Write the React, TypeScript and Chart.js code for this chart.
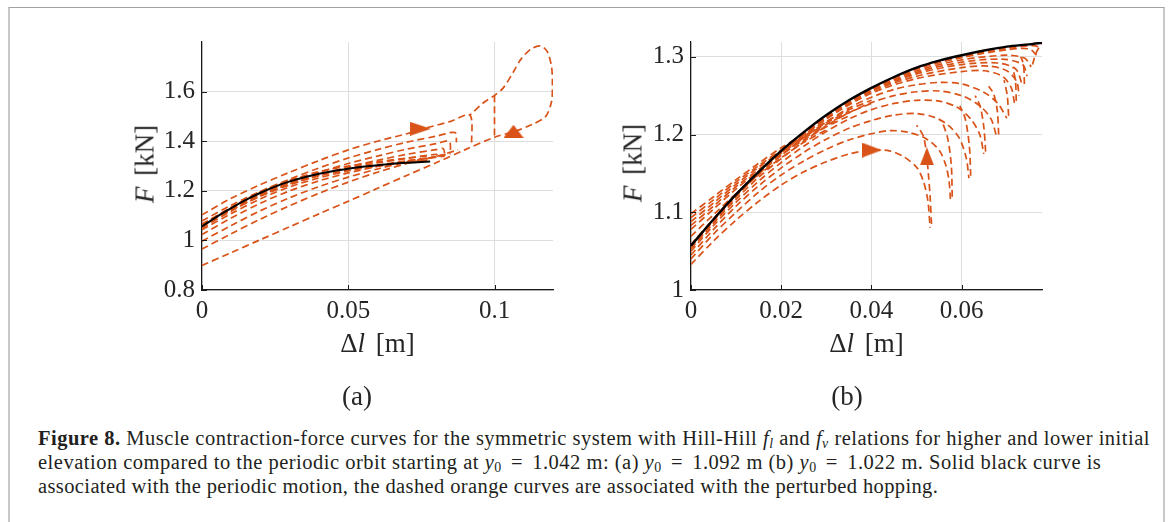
import React, { useEffect, useRef } from "react";
import { Chart, registerables } from "chart.js";

Chart.register(...registerables);

type Pt = [number, number];

const ORANGE = "#D95319";
const GRID = "#dedede";
const AXIS = "#1a1a1a";

// ---------- Panel (a): axes ----------
const A_X_RANGE: Pt = [0, 0.12];
const A_Y_RANGE: Pt = [0.8, 1.8];
const A_X_TICKS = [0, 0.05, 0.1];
const A_Y_TICKS = [0.8, 1, 1.2, 1.4, 1.6];

// ---------- Panel (a): curves ----------
const A_PERIODIC: Pt[] = [
  [0, 1.056], [0.005, 1.095], [0.01, 1.13], [0.015, 1.163], [0.02, 1.192], [0.025, 1.217],
  [0.03, 1.238], [0.035, 1.255], [0.04, 1.269], [0.045, 1.28], [0.05, 1.289], [0.055, 1.297],
  [0.06, 1.303], [0.065, 1.309], [0.07, 1.313], [0.075, 1.316], [0.078, 1.318],
];
const A_UP1: Pt[] = [
  [0, 1.103], [0.01, 1.17], [0.02, 1.225], [0.03, 1.275], [0.04, 1.322], [0.05, 1.365],
  [0.06, 1.4], [0.07, 1.43], [0.075, 1.448], [0.085, 1.48], [0.0916, 1.505], [0.0922, 1.388],
];
const A_UP2: Pt[] = [
  [0, 1.078], [0.01, 1.142], [0.02, 1.198], [0.03, 1.247], [0.04, 1.292], [0.05, 1.332],
  [0.06, 1.366], [0.07, 1.396], [0.08, 1.42], [0.0865, 1.435], [0.087, 1.395],
];
const A_UP3: Pt[] = [
  [0, 1.066], [0.01, 1.13], [0.02, 1.186], [0.03, 1.233], [0.04, 1.274], [0.05, 1.31],
  [0.06, 1.34], [0.07, 1.368], [0.08, 1.39], [0.0845, 1.4], [0.085, 1.36],
];
const A_UP4: Pt[] = [
  [0, 1.06], [0.01, 1.122], [0.02, 1.178], [0.03, 1.224], [0.04, 1.262], [0.05, 1.296],
  [0.06, 1.323], [0.07, 1.347], [0.08, 1.366], [0.0825, 1.37], [0.083, 1.345],
];
const A_UP5: Pt[] = [
  [0, 1.058], [0.01, 1.125], [0.02, 1.185], [0.03, 1.232], [0.04, 1.266], [0.05, 1.292],
  [0.06, 1.312], [0.07, 1.33], [0.08, 1.347], [0.081, 1.335],
];
const A_UP6: Pt[] = [
  [0, 1.063], [0.01, 1.134], [0.02, 1.196], [0.03, 1.243], [0.04, 1.277], [0.05, 1.3],
  [0.06, 1.317], [0.07, 1.332], [0.078, 1.342],
];
const A_LOW1: Pt[] = [
  [0, 0.899], [0.01, 0.951], [0.02, 1.003], [0.03, 1.055], [0.04, 1.107], [0.05, 1.158],
  [0.06, 1.21], [0.07, 1.262], [0.08, 1.313], [0.09, 1.366], [0.1, 1.416], [0.107, 1.44],
  [0.113, 1.468], [0.1175, 1.5], [0.1195, 1.56], [0.1198, 1.63], [0.1195, 1.7], [0.118, 1.762],
  [0.1157, 1.784], [0.1125, 1.772], [0.109, 1.73], [0.1065, 1.68], [0.103, 1.615], [0.1, 1.585],
  [0.096, 1.553], [0.0916, 1.505],
];
const A_LOW2: Pt[] = [
  [0, 0.965], [0.01, 1.027], [0.02, 1.086], [0.03, 1.14], [0.04, 1.19], [0.05, 1.235],
  [0.06, 1.275], [0.07, 1.31], [0.08, 1.338], [0.0875, 1.365],
];
const A_LOW3: Pt[] = [
  [0, 0.997], [0.01, 1.06], [0.02, 1.12], [0.03, 1.172], [0.04, 1.217], [0.05, 1.255],
  [0.06, 1.288], [0.07, 1.316], [0.08, 1.338], [0.085, 1.35],
];
const A_LOW4: Pt[] = [
  [0, 1.024], [0.01, 1.09], [0.02, 1.15], [0.03, 1.2], [0.04, 1.24], [0.05, 1.272],
  [0.06, 1.298], [0.07, 1.32], [0.08, 1.336], [0.083, 1.34],
];
const A_LOW5: Pt[] = [
  [0, 1.043], [0.01, 1.108], [0.02, 1.168], [0.03, 1.216], [0.04, 1.252], [0.05, 1.28],
  [0.06, 1.302], [0.07, 1.321], [0.08, 1.336],
];
const A_LOW6: Pt[] = [
  [0, 1.05], [0.01, 1.118], [0.02, 1.18], [0.03, 1.228], [0.04, 1.26], [0.05, 1.283],
  [0.06, 1.3], [0.07, 1.314], [0.078, 1.325],
];
const A_VERT: Pt[] = [[0.1, 1.585], [0.1, 1.416]];
const A_ARROW_RIGHT: Pt = [0.0747, 1.45];
const A_ARROW_UP: Pt = [0.1065, 1.44];

// ---------- Panel (b): axes ----------
const B_X_RANGE: Pt = [0, 0.0778];
const B_Y_RANGE: Pt = [1, 1.319];
const B_X_TICKS = [0, 0.02, 0.04, 0.06];
const B_Y_TICKS = [1, 1.1, 1.2, 1.3];

// ---------- Panel (b): curves ----------
const B_PERIODIC: Pt[] = [
  [0, 1.057], [0.005, 1.091], [0.01, 1.123], [0.015, 1.152], [0.02, 1.179], [0.025, 1.203],
  [0.03, 1.225], [0.035, 1.244], [0.04, 1.26], [0.045, 1.274], [0.05, 1.286], [0.055, 1.295],
  [0.06, 1.302], [0.065, 1.308], [0.07, 1.313], [0.075, 1.316], [0.0778, 1.318],
];
const B_OUT1: Pt[] = [
  [0, 1.033], [0.005, 1.063], [0.01, 1.09], [0.015, 1.114], [0.02, 1.135], [0.025, 1.152],
  [0.03, 1.165], [0.035, 1.175], [0.04, 1.18], [0.044, 1.179], [0.047, 1.172], [0.05, 1.158],
  [0.0515, 1.14], [0.0525, 1.115], [0.053, 1.08],
];
const B_OUT2: Pt[] = [
  [0, 1.04], [0.005, 1.072], [0.01, 1.1], [0.015, 1.126], [0.02, 1.148], [0.025, 1.166],
  [0.03, 1.181], [0.035, 1.193], [0.04, 1.201], [0.044, 1.205], [0.048, 1.203], [0.052, 1.195],
  [0.055, 1.18], [0.0565, 1.16], [0.0572, 1.14], [0.0575, 1.117],
];
const B_OUT3: Pt[] = [
  [0, 1.045], [0.005, 1.078], [0.01, 1.108], [0.015, 1.134], [0.02, 1.157], [0.025, 1.177],
  [0.03, 1.194], [0.035, 1.208], [0.04, 1.218], [0.045, 1.225], [0.05, 1.227], [0.054, 1.222],
  [0.057, 1.212], [0.0595, 1.195], [0.061, 1.17], [0.0616, 1.144],
];
const B_OUT4: Pt[] = [
  [0, 1.05], [0.005, 1.083], [0.01, 1.113], [0.015, 1.14], [0.02, 1.164], [0.025, 1.185],
  [0.03, 1.204], [0.035, 1.22], [0.04, 1.232], [0.045, 1.24], [0.05, 1.244], [0.055, 1.243],
  [0.059, 1.235], [0.062, 1.22], [0.064, 1.2], [0.0649, 1.175],
];
const B_OUT5: Pt[] = [
  [0, 1.053], [0.005, 1.086], [0.01, 1.117], [0.015, 1.145], [0.02, 1.169], [0.025, 1.191],
  [0.03, 1.211], [0.035, 1.228], [0.04, 1.241], [0.045, 1.25], [0.05, 1.255], [0.055, 1.256],
  [0.06, 1.25], [0.064, 1.237], [0.0665, 1.22], [0.0678, 1.196],
];
const B_OUT6: Pt[] = [
  [0, 1.055], [0.005, 1.088], [0.01, 1.12], [0.015, 1.149], [0.02, 1.173], [0.025, 1.196],
  [0.03, 1.216], [0.035, 1.234], [0.04, 1.248], [0.045, 1.258], [0.05, 1.264], [0.055, 1.267],
  [0.06, 1.265], [0.065, 1.254], [0.068, 1.24], [0.07, 1.221],
];
const B_OUT7: Pt[] = [
  [0, 1.057], [0.01, 1.122], [0.02, 1.176], [0.03, 1.22], [0.04, 1.253], [0.05, 1.272],
  [0.06, 1.281], [0.065, 1.282], [0.069, 1.275], [0.071, 1.26], [0.0717, 1.24],
];
const B_OUT8: Pt[] = [
  [0, 1.057], [0.01, 1.122], [0.02, 1.177], [0.03, 1.221], [0.04, 1.255], [0.05, 1.275],
  [0.06, 1.286], [0.066, 1.288], [0.07, 1.282], [0.0722, 1.268], [0.0727, 1.25],
];
const B_OUT9: Pt[] = [
  [0, 1.058], [0.01, 1.123], [0.02, 1.178], [0.03, 1.222], [0.04, 1.256], [0.05, 1.278],
  [0.06, 1.29], [0.068, 1.292], [0.072, 1.284], [0.0735, 1.262],
];
const B_OUT10: Pt[] = [
  [0, 1.058], [0.01, 1.123], [0.02, 1.178], [0.03, 1.223], [0.04, 1.257], [0.05, 1.28],
  [0.06, 1.293], [0.069, 1.297], [0.0735, 1.29], [0.0745, 1.275],
];
const B_OUT11: Pt[] = [
  [0, 1.058], [0.01, 1.123], [0.02, 1.178], [0.03, 1.223], [0.04, 1.258], [0.05, 1.282],
  [0.06, 1.296], [0.07, 1.302], [0.074, 1.298], [0.0754, 1.287],
];
const B_OUT12: Pt[] = [
  [0, 1.058], [0.01, 1.123], [0.02, 1.179], [0.03, 1.224], [0.04, 1.259], [0.05, 1.284],
  [0.06, 1.299], [0.07, 1.309], [0.075, 1.31], [0.0769, 1.3],
];
const B_OUT13: Pt[] = [
  [0, 1.058], [0.01, 1.123], [0.02, 1.179], [0.03, 1.224], [0.04, 1.259], [0.05, 1.285],
  [0.06, 1.3], [0.07, 1.311], [0.0765, 1.314], [0.0773, 1.308],
];
// upward returns from the bottom of each drop to the next arc
const B_UP1: Pt[] = [[0.0533, 1.085], [0.053, 1.12], [0.0526, 1.15], [0.0522, 1.175], [0.0515, 1.198], [0.05, 1.212]];
const B_UP2: Pt[] = [[0.0579, 1.12], [0.0577, 1.16], [0.0569, 1.195], [0.0556, 1.218]];
const B_UP3: Pt[] = [[0.062, 1.147], [0.0617, 1.185], [0.0608, 1.22], [0.0596, 1.237]];
const B_UP4: Pt[] = [[0.0653, 1.178], [0.0649, 1.21], [0.0641, 1.236], [0.063, 1.25]];
const B_UP5: Pt[] = [[0.0682, 1.2], [0.0679, 1.23], [0.0671, 1.252], [0.066, 1.262]];
const B_UP6: Pt[] = [[0.0704, 1.224], [0.0701, 1.25], [0.0694, 1.27]];
const B_UP7: Pt[] = [[0.0721, 1.243], [0.0719, 1.27], [0.0713, 1.286]];
const B_UP8: Pt[] = [[0.0739, 1.265], [0.0737, 1.29], [0.0731, 1.3]];
const B_UP9: Pt[] = [[0.0757, 1.29], [0.0765, 1.305], [0.0778, 1.318]];
const B_RET1: Pt[] = [
  [0, 1.098], [0.005, 1.12], [0.01, 1.142], [0.015, 1.163], [0.02, 1.183], [0.025, 1.2],
  [0.03, 1.217], [0.035, 1.232], [0.04, 1.244],
];
const B_RET2: Pt[] = [
  [0, 1.093], [0.005, 1.116], [0.01, 1.139], [0.015, 1.16], [0.02, 1.18], [0.025, 1.198],
  [0.03, 1.215], [0.035, 1.23],
];
const B_RET3: Pt[] = [
  [0, 1.088], [0.005, 1.112], [0.01, 1.136], [0.015, 1.158], [0.02, 1.178], [0.025, 1.197],
  [0.03, 1.213], [0.035, 1.228], [0.04, 1.24],
];
const B_RET4: Pt[] = [
  [0, 1.083], [0.005, 1.108], [0.01, 1.133], [0.015, 1.155], [0.02, 1.176], [0.025, 1.195],
  [0.03, 1.211],
];
const B_RET5: Pt[] = [
  [0, 1.078], [0.005, 1.104], [0.01, 1.13], [0.015, 1.153], [0.02, 1.174], [0.025, 1.193],
  [0.03, 1.21], [0.035, 1.224],
];
const B_RET6: Pt[] = [
  [0, 1.069], [0.005, 1.097], [0.01, 1.124], [0.015, 1.148], [0.02, 1.17], [0.025, 1.19],
  [0.03, 1.206],
];
const B_ARROW_RIGHT: Pt = [0.0401, 1.18];
const B_ARROW_UP: Pt = [0.0523, 1.172];

// ---------- helpers ----------
const xy = (pts: Pt[]) => pts.map(([x, y]) => ({ x, y }));

function dashed(pts: Pt[]) {
  return {
    data: xy(pts), showLine: true, borderColor: ORANGE, borderWidth: 1.7,
    borderDash: [7, 4], pointRadius: 0, tension: 0.3, fill: false,
  };
}
function solid(pts: Pt[], w: number) {
  return {
    data: xy(pts), showLine: true, borderColor: "#000", borderWidth: w,
    pointRadius: 0, tension: 0.3, fill: false,
  };
}
function makeArrow(len: number, wid: number) {
  const c = document.createElement("canvas");
  c.width = len; c.height = wid;
  const ctx = c.getContext("2d")!;
  ctx.fillStyle = ORANGE;
  ctx.beginPath();
  ctx.moveTo(len, wid / 2); ctx.lineTo(0, 0); ctx.lineTo(0, wid); ctx.closePath();
  ctx.fill();
  return c;
}
function arrow(pt: Pt, img: HTMLCanvasElement, rotation: number) {
  return {
    data: xy([pt]), showLine: false, pointStyle: img, rotation,
    pointRadius: 10, pointBackgroundColor: ORANGE, pointBorderWidth: 0,
  };
}

// MATLAB-style inward tick marks
const innerTicks = {
  id: "innerTicks",
  afterDraw(chart: any) {
    const { ctx, chartArea, scales } = chart;
    const len = 5;
    ctx.save();
    ctx.strokeStyle = AXIS;
    ctx.lineWidth = 1;
    for (const t of scales.x.ticks) {
      const px = Math.round(scales.x.getPixelForValue(t.value)) + 0.5;
      ctx.beginPath(); ctx.moveTo(px, chartArea.bottom); ctx.lineTo(px, chartArea.bottom - len); ctx.stroke();
    }
    for (const t of scales.y.ticks) {
      const py = Math.round(scales.y.getPixelForValue(t.value)) + 0.5;
      ctx.beginPath(); ctx.moveTo(chartArea.left, py); ctx.lineTo(chartArea.left + len, py); ctx.stroke();
    }
    ctx.restore();
  },
};

const TICK_FONT = { family: "'Liberation Serif', serif", size: 25 };

function axis(range: Pt, ticks: number[], horizontal: boolean) {
  return {
    type: "linear" as const,
    min: range[0], max: range[1],
    afterBuildTicks: (s: any) => { s.ticks = ticks.map((v) => ({ value: v })); },
    afterFit: (s: any) => { if (horizontal) s.height = 75; else s.width = 102; },
    grid: { color: GRID, lineWidth: 1, drawTicks: false },
    border: { display: true, color: AXIS, width: 1.2 },
    ticks: {
      padding: horizontal ? 6 : 7, font: TICK_FONT, color: "#262626",
      autoSkip: false, maxRotation: 0, callback: (v: any) => String(v),
    },
  };
}

type PanelProps = {
  left: number; top: number; width: number; height: number;
  build: () => any[]; xRange: Pt; yRange: Pt; xTicks: number[]; yTicks: number[];
};

function Panel({ left, top, width, height, build, xRange, yRange, xTicks, yTicks }: PanelProps) {
  const ref = useRef<HTMLCanvasElement>(null);
  useEffect(() => {
    const chart = new Chart(ref.current!, {
      type: "scatter",
      data: { datasets: build() },
      options: {
        responsive: false, animation: false, events: [],
        layout: { padding: { top: 15, right: 27, left: 0, bottom: 0 } },
        plugins: { legend: { display: false }, tooltip: { enabled: false } },
        scales: { x: axis(xRange, xTicks, true), y: axis(yRange, yTicks, false) },
      } as any,
      plugins: [innerTicks],
    });
    return () => chart.destroy();
  }, []);
  return (
    <canvas ref={ref} width={width} height={height}
      style={{ position: "absolute", left, top, width, height }} />
  );
}

function buildA() {
  return [
    arrow(A_ARROW_RIGHT, makeArrow(21, 14), 0),
    arrow(A_ARROW_UP, makeArrow(13, 20), -90),
    solid(A_PERIODIC, 2),
    dashed(A_UP1), dashed(A_UP2), dashed(A_UP3), dashed(A_UP4), dashed(A_UP5), dashed(A_UP6),
    dashed(A_LOW1), dashed(A_LOW2), dashed(A_LOW3), dashed(A_LOW4), dashed(A_LOW5), dashed(A_LOW6),
    dashed(A_VERT),
  ];
}
function buildB() {
  return [
    arrow(B_ARROW_RIGHT, makeArrow(20, 15), 0),
    arrow(B_ARROW_UP, makeArrow(18, 14), -90),
    solid(B_PERIODIC, 2.4),
    dashed(B_OUT1), dashed(B_OUT2), dashed(B_OUT3), dashed(B_OUT4), dashed(B_OUT5),
    dashed(B_OUT6), dashed(B_OUT7), dashed(B_OUT8), dashed(B_OUT9), dashed(B_OUT10),
    dashed(B_OUT11), dashed(B_OUT12), dashed(B_OUT13),
    dashed(B_UP1), dashed(B_UP2), dashed(B_UP3), dashed(B_UP4), dashed(B_UP5),
    dashed(B_UP6), dashed(B_UP7), dashed(B_UP8), dashed(B_UP9),
    dashed(B_RET1), dashed(B_RET2), dashed(B_RET3), dashed(B_RET4), dashed(B_RET5), dashed(B_RET6),
  ];
}

const SERIF = "'Liberation Serif', 'Times New Roman', serif";
const label = (x: number, y: number, rot = 0, size = 27): React.CSSProperties => ({
  position: "absolute", left: x, top: y, whiteSpace: "nowrap",
  transform: `translate(-50%, -50%)${rot ? ` rotate(${rot}deg)` : ""}`,
  fontFamily: SERIF, fontSize: size, color: "#262626", lineHeight: 1,
});
const sub: React.CSSProperties = { fontSize: "0.68em", verticalAlign: "-0.25em", lineHeight: 0 };
const Eq = () => <span style={{ margin: "0 0.45em" }}>=</span>;

export default function App() {
  return (
    <div style={{ position: "fixed", left: 0, top: 0, width: 1171, height: 522, background: "#fff", overflow: "hidden" }}>
      <div style={{
        position: "absolute", left: 8, top: 7, width: 1157, height: 600, boxSizing: "border-box",
        borderTop: "1.5px solid #a2a2a2", borderLeft: "2px solid #c8c8c8", borderRight: "2px solid #c8c8c8",
      }} />
      <Panel left={100} top={20} width={480} height={345} build={buildA}
        xRange={A_X_RANGE} yRange={A_Y_RANGE} xTicks={A_X_TICKS} yTicks={A_Y_TICKS} />
      <Panel left={589} top={20} width={480} height={345} build={buildB}
        xRange={B_X_RANGE} yRange={B_Y_RANGE} xTicks={B_X_TICKS} yTicks={B_Y_TICKS} />

      <div style={label(377.5, 343)}>Δ<i>l</i><span style={{ marginLeft: "0.4em" }}>[m]</span></div>
      <div style={label(866.5, 343)}>Δ<i>l</i><span style={{ marginLeft: "0.4em" }}>[m]</span></div>
      <div style={label(145, 164, -90)}><i>F</i><span style={{ marginLeft: "0.4em" }}>[kN]</span></div>
      <div style={label(633, 163, -90)}><i>F</i><span style={{ marginLeft: "0.4em" }}>[kN]</span></div>
      <div style={label(357, 396, 0, 27)}>(a)</div>
      <div style={label(847, 396, 0, 27)}>(b)</div>

      <div style={{
        position: "absolute", left: 38, top: 426, fontFamily: SERIF, fontSize: 20.5,
        letterSpacing: "0.5px", lineHeight: "24px", color: "#231f20", whiteSpace: "nowrap",
      }}>
        <div><b>Figure 8.</b> Muscle contraction-force curves for the symmetric system with Hill-Hill <i>f</i><i style={sub}>l</i> and <i>f</i><i style={sub}>v</i> relations for higher and lower initial</div>
        <div>elevation compared to the periodic orbit starting at <i>y</i><span style={sub}>0</span><Eq />1.042 m: (a) <i>y</i><span style={sub}>0</span><Eq />1.092 m (b) <i>y</i><span style={sub}>0</span><Eq />1.022 m. Solid black curve is</div>
        <div style={{ letterSpacing: "0.38px" }}>associated with the periodic motion, the dashed orange curves are associated with the perturbed hopping.</div>
      </div>
    </div>
  );
}
